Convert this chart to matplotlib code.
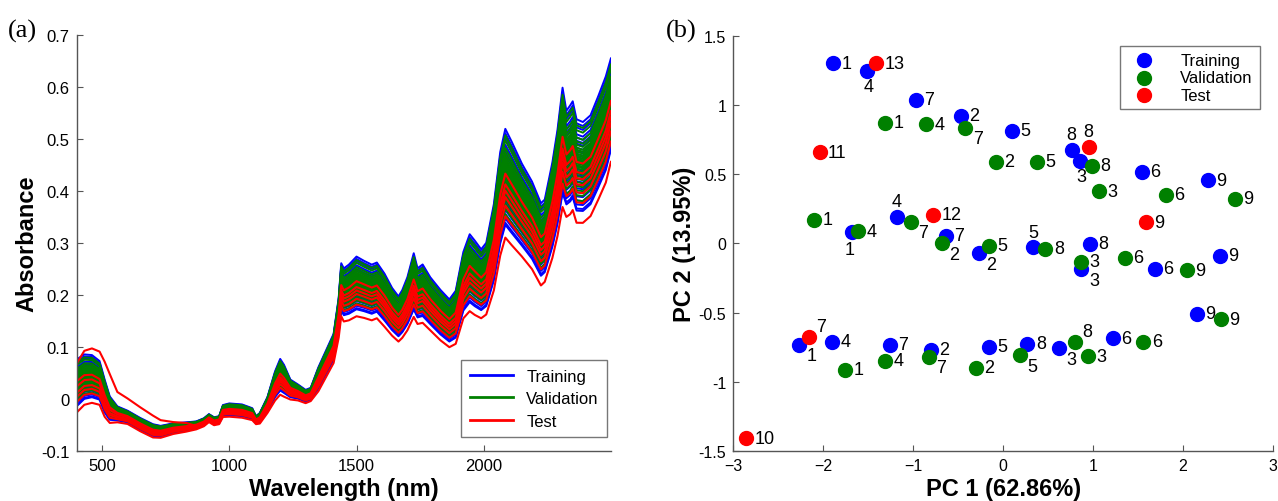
import numpy as np
import matplotlib
matplotlib.use("Agg")
import matplotlib.pyplot as plt

plt.rcParams['font.family'] = ['Liberation Sans', 'DejaVu Sans']

# ---- panel (a): NIR spectra ----
wavelength = [400, 430, 460, 490, 510, 530, 560, 600, 650, 700, 730, 780, 830, 870,
              900, 920, 940, 960, 975, 1000, 1050, 1090, 1105, 1120, 1150, 1180, 1200,
              1215, 1240, 1270, 1300, 1320, 1350, 1380, 1410, 1430, 1440, 1450, 1470,
              1500, 1530, 1560, 1580, 1610, 1640, 1665, 1680, 1700, 1725, 1740, 1760,
              1790, 1830, 1865, 1890, 1920, 1945, 1965, 1990, 2010, 2040, 2065, 2085,
              2110, 2150, 2190, 2225, 2240, 2270, 2290, 2310, 2325, 2340, 2350, 2365,
              2390, 2420, 2450, 2480, 2500]
mean_abs = [0.030, 0.042, 0.043, 0.035, 0.005, -0.018, -0.028, -0.034, -0.048, -0.060,
            -0.062, -0.056, -0.053, -0.050, -0.044, -0.036, -0.042, -0.040, -0.022,
            -0.020, -0.022, -0.028, -0.040, -0.036, -0.010, 0.028, 0.046, 0.038, 0.020,
            0.014, 0.006, 0.010, 0.040, 0.070, 0.100, 0.160, 0.215, 0.205, 0.210, 0.222,
            0.216, 0.210, 0.214, 0.195, 0.172, 0.158, 0.168, 0.188, 0.225, 0.203, 0.208,
            0.188, 0.166, 0.150, 0.162, 0.225, 0.250, 0.240, 0.228, 0.238, 0.300, 0.385,
            0.425, 0.405, 0.372, 0.342, 0.305, 0.312, 0.372, 0.425, 0.495, 0.462, 0.470,
            0.478, 0.448, 0.445, 0.458, 0.492, 0.528, 0.565]
spread_abs = [0.040, 0.038, 0.036, 0.033, 0.028, 0.020, 0.012, 0.010, 0.010, 0.010,
              0.009, 0.008, 0.007, 0.006, 0.006, 0.006, 0.006, 0.006, 0.009, 0.010,
              0.010, 0.009, 0.006, 0.008, 0.012, 0.022, 0.027, 0.024, 0.015, 0.012,
              0.010, 0.010, 0.018, 0.020, 0.022, 0.030, 0.040, 0.040, 0.042, 0.045,
              0.043, 0.042, 0.042, 0.040, 0.036, 0.034, 0.036, 0.040, 0.048, 0.042,
              0.044, 0.040, 0.038, 0.036, 0.040, 0.050, 0.058, 0.056, 0.052, 0.054,
              0.065, 0.078, 0.082, 0.078, 0.070, 0.066, 0.062, 0.062, 0.072, 0.080,
              0.090, 0.080, 0.082, 0.082, 0.078, 0.076, 0.076, 0.078, 0.080, 0.078]
# extra absorbance of the odd test sample in the visible range
outlier_extra = [0.050, 0.062, 0.065, 0.066, 0.075, 0.072, 0.045, 0.038, 0.035, 0.031,
                 0.024, 0.014, 0.009, 0.0] + [0.0] * 66

train_k = [1.15, 1.05, 0.95, 0.78, 0.62, 0.55, 0.45, 0.38, 0.3, 0.22, 0.15, 0.08, 0.0,
           -0.08, -0.15, -0.22, -0.3, -0.38, -0.46, -0.55, -0.65, -0.75, -0.85, -0.95,
           -1.05, -1.1, 0.7]
valid_k = [1.0, 0.88, 0.7, 0.6, 0.52, 0.45, 0.4, 0.35, 0.3, 0.26, 0.22, 0.18, 0.14, 0.1,
           0.06, 0.02, -0.02, -0.06, -0.12, -0.18, -0.25, -0.32, -0.4, -0.5, -0.6, -0.72,
           -0.85]
test_k = [-1.4, -0.9, -0.65, -0.3, -0.45, -0.15, 0.1]
outlier_idx = 3

# ---- panel (b): PCA scores ----
train_pc1 = [-1.89, -1.51, -0.97, -0.47, 0.10, 0.76, 0.85, 1.54, 2.28,
             -1.68, -1.18, -0.64, -0.27, 0.33, 0.96, 0.87, 1.69, 2.41,
             2.15, -2.27, -1.90, -1.26, -0.80, -0.16, 0.27, 0.62, 1.22]
train_pc2 = [1.300, 1.246, 1.035, 0.921, 0.813, 0.676, 0.592, 0.517, 0.457,
             0.084, 0.188, 0.055, -0.070, -0.029, -0.005, -0.186, -0.183, -0.089,
             -0.510, -0.732, -0.710, -0.732, -0.770, -0.746, -0.727, -0.758, -0.684]
train_lab = ['1', '4', '7', '2', '5', '8', '3', '6', '9',
             '1', '4', '7', '2', '5', '8', '3', '6', '9',
             '9', '1', '4', '7', '2', '5', '8', '3', '6']
valid_pc1 = [-1.31, -0.86, -0.42, -0.08, 0.38, 0.99, 1.06, 1.81, 2.58,
             -2.10, -1.61, -1.03, -0.68, -0.16, 0.47, 0.87, 1.35, 2.04,
             2.42, -1.76, -1.31, -0.83, -0.30, 0.19, 0.80, 0.94, 1.56]
valid_pc2 = [0.869, 0.861, 0.835, 0.589, 0.589, 0.560, 0.375, 0.351, 0.320,
             0.170, 0.087, 0.156, 0.000, -0.017, -0.041, -0.133, -0.104, -0.193,
             -0.547, -0.912, -0.847, -0.818, -0.900, -0.806, -0.715, -0.816, -0.710]
valid_lab = ['1', '4', '7', '2', '5', '8', '3', '6', '9',
             '1', '4', '7', '2', '5', '8', '3', '6', '9',
             '9', '1', '4', '7', '2', '5', '8', '3', '6']
test_pc1 = [-1.41, -2.04, 0.95, -0.78, 1.59, -2.16, -2.86]
test_pc2 = [1.302, 0.657, 0.698, 0.207, 0.152, -0.679, -1.408]
test_lab = ['13', '11', '8', '12', '9', '7', '10']

# where each number sits relative to its dot (r = right, a = above, b = below ...)
train_pos = ['r', 'b', 'r', 'r', 'r', 'a', 'b', 'r', 'r',
             'bl', 'a', 'r', 'br', 'a', 'r', 'br', 'r', 'r',
             'r', 'br', 'r', 'r', 'r', 'r', 'r', 'br', 'r']
valid_pos = ['r', 'r', 'br', 'r', 'r', 'r', 'r', 'r', 'r',
             'r', 'r', 'br', 'br', 'r', 'r', 'r', 'r', 'r',
             'r', 'r', 'r', 'br', 'r', 'br', 'ar', 'r', 'r']
test_pos = ['r', 'r', 'a', 'r', 'r', 'ar', 'r']

# offsets in points
offsets = {'r': (6, 0, 'left'), 'a': (0, 11, 'center'), 'b': (1, -11, 'center'),
           'br': (9, -8, 'center'), 'ar': (9, 8, 'center'),
           'bl': (-2, -12.5, 'center')}

BLUE, GREEN, RED = '#0000ff', '#008000', '#ff0000'
AXC = '#555555'

fig = plt.figure(figsize=(12.78, 5.02), dpi=100)
ax1 = fig.add_axes([0.060, 0.0996, 0.418, 0.8290])
ax2 = fig.add_axes([0.5738, 0.0996, 0.4223, 0.8275])

wl = np.array(wavelength)
mean_abs = np.array(mean_abs)
spread_abs = np.array(spread_abs)

for k in train_k:
    ax1.plot(wl, mean_abs + k * spread_abs, color=BLUE, lw=1.4)
for k in valid_k:
    ax1.plot(wl, mean_abs + k * spread_abs, color=GREEN, lw=1.4)
for i, k in enumerate(test_k):
    y = mean_abs + k * spread_abs
    if i == outlier_idx:
        y = y + np.array(outlier_extra)
    ax1.plot(wl, y, color=RED, lw=1.5)

ax1.plot([], [], color=BLUE, lw=2, label='Training')
ax1.plot([], [], color=GREEN, lw=2, label='Validation')
ax1.plot([], [], color=RED, lw=2, label='Test')

ax1.set_xlim(400, 2500)
ax1.set_ylim(-0.1, 0.7)
ax1.set_xticks([500, 1000, 1500, 2000])
yt = np.round(np.arange(-0.1, 0.71, 0.1), 1)
ax1.set_yticks(yt)
ax1.set_yticklabels(['{:g}'.format(v) for v in yt])
ax1.set_xlabel('Wavelength (nm)', fontsize=17, fontweight='bold', labelpad=3)
ax1.set_ylabel('Absorbance', fontsize=17, fontweight='bold', labelpad=2)
leg1 = ax1.legend(loc='lower right', fontsize=12, fancybox=False, edgecolor=AXC,
                  handlelength=2.6, borderaxespad=0.0, labelspacing=0.45,
                  borderpad=0.5, bbox_to_anchor=(0.993, 0.034))
leg1.get_frame().set_linewidth(1.0)

ax2.scatter(train_pc1, train_pc2, s=100, color=BLUE, label='Training', zorder=3)
ax2.scatter(valid_pc1, valid_pc2, s=100, color=GREEN, label='Validation', zorder=3)
ax2.scatter(test_pc1, test_pc2, s=100, color=RED, label='Test', zorder=4)

for xs, ys, labs, poss in [(train_pc1, train_pc2, train_lab, train_pos),
                           (valid_pc1, valid_pc2, valid_lab, valid_pos),
                           (test_pc1, test_pc2, test_lab, test_pos)]:
    for x, y, lab, p in zip(xs, ys, labs, poss):
        dx, dy, ha = offsets[p]
        ax2.annotate(lab, (x, y), xytext=(dx, dy), textcoords='offset points',
                     ha=ha, va='center', fontsize=13, zorder=5)

ax2.set_xlim(-3, 3)
ax2.set_ylim(-1.5, 1.5)
ax2.set_xticks(np.arange(-3, 4, 1))
ax2.set_yticks(np.arange(-1.5, 1.6, 0.5))
ax2.set_yticklabels(['{:g}'.format(v) for v in np.arange(-1.5, 1.6, 0.5)])
ax2.set_xlabel('PC 1 (62.86%)', fontsize=17, fontweight='bold', labelpad=3)
ax2.set_ylabel('PC 2 (13.95%)', fontsize=17, fontweight='bold', labelpad=2)
leg2 = ax2.legend(loc='upper right', fontsize=12, fancybox=False, edgecolor=AXC,
                  handlelength=2.0, handletextpad=1.2, borderaxespad=0.0,
                  labelspacing=0.15, borderpad=0.4, bbox_to_anchor=(0.975, 0.975))
leg2.get_frame().set_linewidth(1.0)

for ax in (ax1, ax2):
    for s in ('top', 'right'):
        ax.spines[s].set_visible(False)
    for s in ('left', 'bottom'):
        ax.spines[s].set_color(AXC)
        ax.spines[s].set_linewidth(1.0)
    ax.tick_params(direction='in', length=4, color=AXC, labelsize=12, pad=5)
ax2.tick_params(labelsize=11.5)

fig.text(0.006, 0.925, '(a)', family='Liberation Serif', fontsize=19)
fig.text(0.521, 0.925, '(b)', family='Liberation Serif', fontsize=19)

fig.savefig('out.png', dpi=100)
